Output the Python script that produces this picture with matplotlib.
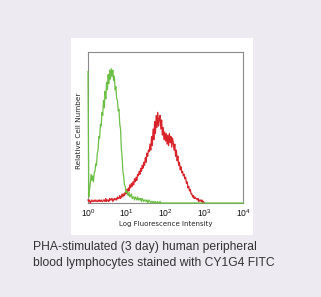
import matplotlib.pyplot as plt
import matplotlib.patches as patches
import numpy as np

plt.rcParams['mathtext.default'] = 'regular'

# ------------------------------------------------------------------
# - data: histogram counts (log10 channels, step 0.02)
log_step = 0.02

green_counts = [87, 4, 9, 13, 19, 15, 18, 14, 20, 21, 26,
                25, 33, 35, 44, 43, 52, 51, 60, 58, 68,
                63, 74, 69, 80, 75, 85, 79, 88, 82, 89,
                84, 88, 81, 84, 75, 77, 69, 68, 61, 62,
                52, 49, 36, 31, 21, 18, 12, 11, 7, 8,
                6, 5, 7, 4, 5, 6, 3, 4, 4, 2,
                4, 3, 2, 4, 2, 3, 2, 3, 1, 3,
                2, 1, 2, 2, 1, 2, 0, 1, 2, 1,
                0, 1, 1, 0, 1, 0, 1, 0, 0, 1, 0, 0, 1, 0, 0] + [0] * 105

red_counts = [2, 1, 2, 0, 1, 2, 1, 1, 2, 1,
              2, 1, 1, 2, 1, 2, 1, 2, 1, 1,
              2, 2, 1, 3, 1, 2, 2, 1, 3, 2,
              2, 3, 1, 2, 3, 2, 3, 2, 4, 3,
              3, 5, 3, 4, 6, 4, 6, 5, 7, 6,
              9, 7, 10, 8, 12, 10, 13, 11, 14, 12,
              16, 14, 17, 15, 19, 18, 21, 19, 23, 21,
              25, 23, 27, 25, 30, 27, 33, 31, 35, 34,
              39, 35, 44, 38, 49, 42, 54, 46, 58, 50,
              60, 51, 56, 58, 49, 55, 45, 50, 42, 47,
              41, 46, 39, 45, 38, 46, 40, 44, 37, 43,
              40, 35, 39, 31, 35, 28, 31, 25, 27, 22,
              24, 20, 21, 18, 19, 16, 17, 13, 14, 10,
              11, 8, 9, 6, 6, 4, 5, 3, 4, 3,
              3, 2, 3, 1, 2, 2, 1, 2, 0, 1,
              0]

tick_decades = [0, 1, 2, 3, 4]
tick_labels = [r'$10^{%d}$' % d for d in tick_decades]

caption = ('PHA-stimulated (3 day) human peripheral\n'
           'blood lymphocytes stained with CY1G4 FITC')

# ------------------------------------------------------------------
# - figure
W, H = 321, 297
fig = plt.figure(figsize=(W / 100, H / 100), dpi=100)
fig.patch.set_facecolor('#edeaf2')

# white panel behind the plot
panel = patches.Rectangle((71 / W, 1 - 235 / H), 182 / W, 197 / H,
                          transform=fig.transFigure, facecolor='white',
                          edgecolor='none', zorder=-1)
fig.patches.append(panel)

ax = fig.add_axes([88 / W, 1 - 203 / H, 155 / W, 151 / H])
ax.set_facecolor('white')

x_green = 10 ** (np.arange(len(green_counts)) * log_step)
x_red = 10 ** (np.arange(len(red_counts)) * log_step)

ax.plot(x_red, red_counts, color='#d8232a', lw=0.9, zorder=3, clip_on=False)
ax.plot(x_green, green_counts, color='#6cbf45', lw=0.9, zorder=4, clip_on=False)

ax.set_xscale('log')
ax.set_xlim(1, 1e4)
ax.set_ylim(0, 100)

ax.set_xticks([10 ** d for d in tick_decades])
ax.set_xticklabels(tick_labels, fontsize=6.2, family='Liberation Sans', color='#111111')
ax.minorticks_off()
ax.tick_params(axis='x', length=0, pad=3.0)
ax.set_yticks([])

for s in ax.spines.values():
    s.set_color('#8a8a8a')
    s.set_linewidth(0.8)

ax.set_xlabel('Log Fluorescence Intensity', fontsize=5.0, color='#222222', labelpad=1.5)
ax.set_ylabel('Relative Cell Number', fontsize=5.2, color='#222222', labelpad=4.5)
ax.yaxis.label.set_y(0.477)

fig.text(33 / W, 1 - 255 / H, caption, fontsize=8.7, family='Liberation Sans',
         color='#333333', va='center', ha='left', linespacing=1.45)

fig.savefig('out.png', dpi=100, facecolor=fig.get_facecolor())
